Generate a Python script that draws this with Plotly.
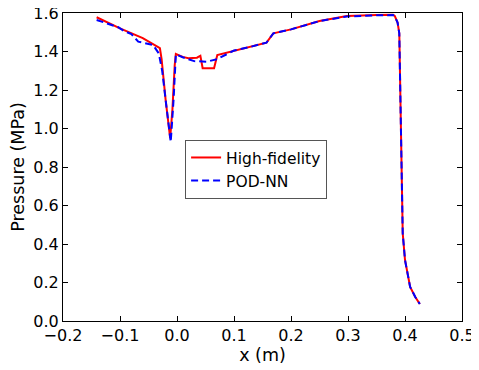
import plotly.graph_objects as go

# High-fidelity (red)
hf_x = [-0.141, -0.10, -0.06, -0.030, -0.027, -0.020, -0.012, -0.008, -0.004, -0.002,
        0.010, 0.020, 0.035, 0.041, 0.045, 0.065, 0.0707, 0.10, 0.13, 0.157, 0.169,
        0.20, 0.25, 0.298, 0.35, 0.379, 0.382, 0.387, 0.390, 0.393, 0.396, 0.400,
        0.405, 0.409, 0.418, 0.426]
hf_y = [1.578, 1.52, 1.47, 1.417, 1.36, 1.15, 0.95, 1.10, 1.33, 1.387,
        1.372, 1.365, 1.368, 1.378, 1.313, 1.313, 1.382, 1.405, 1.425, 1.446, 1.494,
        1.515, 1.558, 1.584, 1.590, 1.591, 1.585, 1.55, 1.494, 0.976, 0.456, 0.317,
        0.23, 0.177, 0.125, 0.088]

# POD-NN (blue dashed)
pod_x = [-0.141, -0.12, -0.103, -0.094, -0.08, -0.068, -0.056, -0.042, -0.032, -0.026,
         -0.020, -0.011, -0.006, -0.002, 0.010, 0.030, 0.052, 0.070, 0.090, 0.10,
         0.13, 0.157, 0.169, 0.20, 0.25, 0.298, 0.35, 0.379, 0.382, 0.387, 0.390,
         0.393, 0.396, 0.400, 0.405, 0.409, 0.418, 0.426]
pod_y = [1.564, 1.545, 1.526, 1.508, 1.49, 1.451, 1.442, 1.434, 1.39, 1.30,
         1.15, 0.93, 1.15, 1.385, 1.37, 1.35, 1.347, 1.36, 1.39, 1.405,
         1.425, 1.446, 1.494, 1.515, 1.558, 1.582, 1.588, 1.589, 1.583, 1.55, 1.494,
         0.976, 0.456, 0.317, 0.23, 0.177, 0.125, 0.088]

x_ticks = [-0.2, -0.1, 0.0, 0.1, 0.2, 0.3, 0.4, 0.5]
y_ticks = [0.0, 0.2, 0.4, 0.6, 0.8, 1.0, 1.2, 1.4, 1.6]

fig = go.Figure()
fig.add_trace(go.Scatter(x=hf_x, y=hf_y, mode="lines", name="High-fidelity",
                         line=dict(color="red", width=2)))
fig.add_trace(go.Scatter(x=pod_x, y=pod_y, mode="lines", name="POD-NN",
                         line=dict(color="blue", width=2, dash="7px,4px")))

axis_common = dict(showline=True, linecolor="black", linewidth=1, mirror="ticks",
                   ticks="inside", ticklen=5, tickcolor="black", showgrid=False,
                   zeroline=False, automargin=False, ticklabeloverflow="allow",
                   tickfont=dict(size=16, color="black"))

fig.update_layout(
    width=471, height=362,
    margin=dict(l=55, r=17, t=5, b=49),
    paper_bgcolor="white", plot_bgcolor="white",
    font=dict(family="DejaVu Sans", color="black"),
    xaxis=dict(range=[-0.2, 0.5], tickvals=x_ticks, tickformat=".1f",
               title=dict(text="x (m)", font=dict(size=17.5), standoff=2), **axis_common),
    yaxis=dict(range=[0.0, 1.6], tickvals=y_ticks, tickformat=".1f",
               title=dict(text="Pressure (MPa)", font=dict(size=17.5), standoff=4), **axis_common),
    legend=dict(x=0.306, y=0.588, xanchor="left", yanchor="top",
                bgcolor="white", bordercolor="#555", borderwidth=1,
                font=dict(size=15.5)),
    showlegend=True,
)

fig.write_html("out.html")
